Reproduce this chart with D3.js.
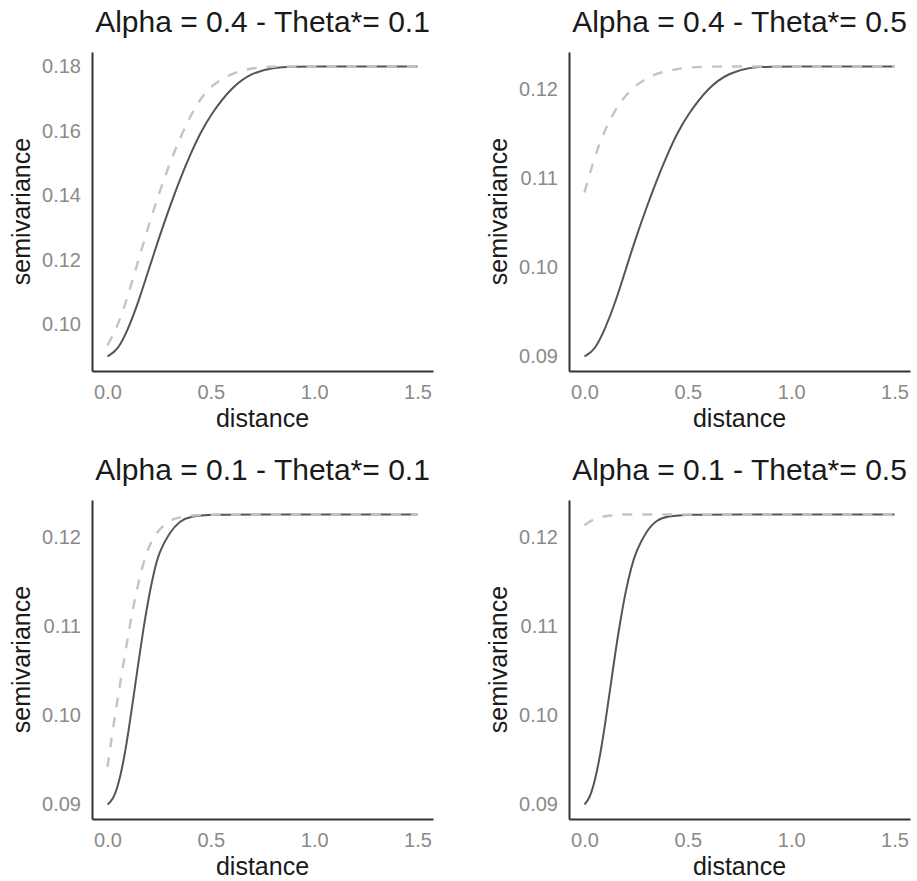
<!DOCTYPE html>
<html>
<head>
<meta charset="utf-8">
<script src="https://cdn.jsdelivr.net/npm/d3@7"></script>
<style>
  body { margin: 0; background: #fff; }
  svg { display: block; font-family: "Liberation Sans", Arial, Helvetica, sans-serif; }
</style>
</head>
<body>
<div id="chart"></div>
<script>
// panel titles
const titles = [
  "Alpha = 0.4 - Theta*= 0.1",
  "Alpha = 0.4 - Theta*= 0.5",
  "Alpha = 0.1 - Theta*= 0.1",
  "Alpha = 0.1 - Theta*= 0.5"
];

// distances the curves were read at (top row / bottom row)
const distTop = [0, 0.05, 0.1, 0.15, 0.2, 0.25, 0.3, 0.35, 0.4, 0.45, 0.5, 0.6, 0.7, 0.8, 0.9, 1.0, 1.25, 1.5];
const distBottom = [0, 0.025, 0.05, 0.075, 0.1, 0.125, 0.15, 0.175, 0.2, 0.225, 0.25, 0.3, 0.35, 0.4, 0.5, 0.75, 1.0, 1.25, 1.5];

// semivariance, solid = model, dashed = comparison
const solid1 = [0.0900, 0.0920, 0.0985, 0.1070, 0.1171, 0.1270, 0.1362, 0.1449, 0.1526, 0.1595, 0.1651, 0.1736, 0.1781, 0.1797, 0.1800, 0.1800, 0.1800, 0.1800];
const dashed1 = [0.0935, 0.0995, 0.1090, 0.1200, 0.1308, 0.1408, 0.1498, 0.1577, 0.1645, 0.1700, 0.1740, 0.1779, 0.1796, 0.1800, 0.1800, 0.1800, 0.1800, 0.1800];

const solid2 = [0.0900, 0.0907, 0.0931, 0.0961, 0.0998, 0.1034, 0.1067, 0.1098, 0.1126, 0.1151, 0.1171, 0.1202, 0.1218, 0.1224, 0.1225, 0.1225, 0.1225, 0.1225];
const dashed2 = [0.1084, 0.1125, 0.1155, 0.1177, 0.1193, 0.1204, 0.1212, 0.1217, 0.1220, 0.1222, 0.1224, 0.1225, 0.1225, 0.1225, 0.1225, 0.1225, 0.1225, 0.1225];

const solid3 = [0.0900, 0.0905, 0.0920, 0.0945, 0.0979, 0.1019, 0.1060, 0.1099, 0.1133, 0.1161, 0.1183, 0.1205, 0.1218, 0.1223, 0.1225, 0.1225, 0.1225, 0.1225, 0.1225];
const dashed3 = [0.0942, 0.0983, 0.1020, 0.1055, 0.1090, 0.1122, 0.1149, 0.1172, 0.1189, 0.1200, 0.1208, 0.1219, 0.1222, 0.1224, 0.1225, 0.1225, 0.1225, 0.1225, 0.1225];

const solid4 = [0.0900, 0.0907, 0.0926, 0.0954, 0.0990, 0.1031, 0.1072, 0.1108, 0.1140, 0.1165, 0.1184, 0.1207, 0.1219, 0.1223, 0.1225, 0.1225, 0.1225, 0.1225, 0.1225];
const dashed4 = [0.1213, 0.1217, 0.1220, 0.1222, 0.1223, 0.1224, 0.1224, 0.1225, 0.1225, 0.1225, 0.1225, 0.1225, 0.1225, 0.1225, 0.1225, 0.1225, 0.1225, 0.1225, 0.1225];

// tick values
const xTicks = [0, 0.5, 1.0, 1.5];
const yTicksTop = [0.10, 0.12, 0.14, 0.16, 0.18];
const yTicks = [0.09, 0.10, 0.11, 0.12];

const panels = [
  { title: titles[0], dist: distTop, solid: solid1, dashed: dashed1, yTicks: yTicksTop, left: 92, top: 52 },
  { title: titles[1], dist: distTop, solid: solid2, dashed: dashed2, yTicks: yTicks, left: 569, top: 52 },
  { title: titles[2], dist: distBottom, solid: solid3, dashed: dashed3, yTicks: yTicks, left: 92, top: 500 },
  { title: titles[3], dist: distBottom, solid: solid4, dashed: dashed4, yTicks: yTicks, left: 569, top: 500 }
];

const width = 917, height = 881;
const pw = 341, ph = 319;

const svg = d3.select("#chart").append("svg")
  .attr("width", width)
  .attr("height", height);

panels.forEach(function(p) {
  const g = svg.append("g").attr("transform", "translate(" + p.left + "," + p.top + ")");

  // ggplot style 5% expansion
  const xExt = d3.extent(p.dist);
  const xPad = (xExt[1] - xExt[0]) * 0.05;
  const x = d3.scaleLinear().domain([xExt[0] - xPad, xExt[1] + xPad]).range([0, pw]);

  const yExt = d3.extent(p.solid.concat(p.dashed));
  const yPad = (yExt[1] - yExt[0]) * 0.05;
  const y = d3.scaleLinear().domain([yExt[0] - yPad, yExt[1] + yPad]).range([ph, 0]);

  // axes
  const xAxis = g.append("g")
    .attr("transform", "translate(0," + ph + ")")
    .call(d3.axisBottom(x).tickValues(xTicks).tickFormat(d3.format(".1f"))
      .tickSize(0).tickPadding(14));

  const yAxis = g.append("g")
    .call(d3.axisLeft(y).tickValues(p.yTicks).tickFormat(d3.format(".2f"))
      .tickSize(0).tickPadding(11));

  [xAxis, yAxis].forEach(function(a) {
    a.select(".domain").attr("stroke", "#333").attr("stroke-width", 2);
    a.selectAll("text")
      .attr("fill", "#8a8a8a")
      .style("font-size", "20px")
      .style("font-family", "\"Liberation Sans\", Arial, sans-serif");
  });

  const line = d3.line()
    .x(function(d) { return x(d[0]); })
    .y(function(d) { return y(d[1]); })
    .curve(d3.curveBasis);

  g.append("path")
    .datum(p.dist.map(function(d, i) { return [d, p.solid[i]]; }))
    .attr("fill", "none")
    .attr("stroke", "#555")
    .attr("stroke-width", 2)
    .attr("d", line);

  g.append("path")
    .datum(p.dist.map(function(d, i) { return [d, p.dashed[i]]; }))
    .attr("fill", "none")
    .attr("stroke", "#c4c4c4")
    .attr("stroke-width", 2.4)
    .attr("stroke-dasharray", "10,10")
    .attr("d", line);

  // titles
  g.append("text")
    .attr("x", pw / 2)
    .attr("y", -20)
    .attr("text-anchor", "middle")
    .attr("fill", "#1a1a1a")
    .style("font-size", "30px")
    .text(p.title);

  g.append("text")
    .attr("x", pw / 2)
    .attr("y", ph + 56)
    .attr("text-anchor", "middle")
    .attr("fill", "#1a1a1a")
    .style("font-size", "25px")
    .text("distance");

  g.append("text")
    .attr("transform", "translate(-62," + (ph / 2) + ") rotate(-90)")
    .attr("text-anchor", "middle")
    .attr("fill", "#1a1a1a")
    .style("font-size", "25px")
    .text("semivariance");
});
</script>
</body>
</html>
